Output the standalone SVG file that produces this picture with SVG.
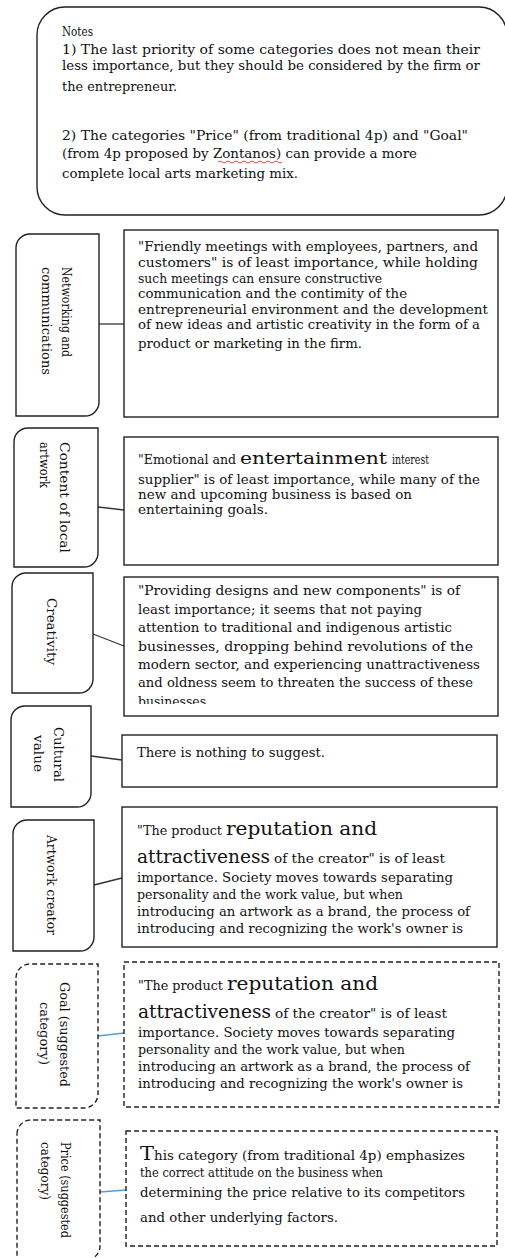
<svg xmlns="http://www.w3.org/2000/svg" width="505" height="1258" viewBox="0 0 505 1258">
<style>
.t{font-family:"DejaVu Serif","Liberation Serif",serif;font-size:12.5px;fill:#111}
.big{font-size:18.5px}
.mid{font-size:16px}
.box{fill:#fff;stroke:#222;stroke-width:1.4}
.dash{stroke-dasharray:5 3}
.con{fill:none;stroke:#333;stroke-width:1.3}
.blue{stroke:#5b9bd5}
</style>
<defs>
<clipPath id="c3"><rect x="124" y="577" width="374" height="127"/></clipPath>
</defs>
<rect width="505" height="1258" fill="#fff"/>

<g id="notes">
<rect class="box" x="37" y="7" width="470" height="208" rx="28" ry="28"/>
<text class="t" x="62" y="36" textLength="31" lengthAdjust="spacingAndGlyphs">Notes</text>
<text class="t" x="62" y="54" textLength="418" lengthAdjust="spacingAndGlyphs">1) The last priority of some categories does not mean their</text>
<text class="t" x="62" y="70" textLength="418" lengthAdjust="spacingAndGlyphs">less importance, but they should be considered by the firm or</text>
<text class="t" x="62" y="91" textLength="115" lengthAdjust="spacingAndGlyphs">the entrepreneur.</text>
<text class="t" x="62" y="140" textLength="406" lengthAdjust="spacingAndGlyphs">2) The categories "Price" (from traditional 4p) and "Goal"</text>
<text class="t" x="62" y="158" textLength="355" lengthAdjust="spacingAndGlyphs">(from 4p proposed by Zontanos) can provide a more</text>
<text class="t" x="62" y="178" textLength="236" lengthAdjust="spacingAndGlyphs">complete local arts marketing mix.</text>
<path d="M218 162 q2 -2 4 0 t4 0 t4 0 t4 0 t4 0 t4 0 t4 0 t4 0 t4 0 t4 0 t4 0 t4 0 t4 0 t4 0 t4 0 t4 0" fill="none" stroke="#e03030" stroke-width="0.9"/>
</g>

<g id="connectors">
<line class="con" x1="99" y1="324" x2="124" y2="324"/>
<line class="con" x1="98" y1="507" x2="124" y2="510"/>
<line class="con" x1="93" y1="634" x2="124" y2="646"/>
<line class="con" x1="91" y1="756" x2="122" y2="760"/>
<line class="con" x1="94" y1="885" x2="122" y2="878"/>
<line class="con blue" x1="98" y1="1036" x2="124" y2="1033"/>
<line class="con blue" x1="100" y1="1192" x2="126" y2="1190"/>
</g>

<g id="n-networking">
<path class="box" d="M16 248 A14 14 0 0 1 30 234 H99 V402 A14 14 0 0 1 85 416 H16 Z"/>
<g transform="translate(62 267) rotate(90)">
<text class="t" x="0" y="0" textLength="90" lengthAdjust="spacingAndGlyphs">Networking and</text>
<text class="t" x="0" y="20" textLength="108" lengthAdjust="spacingAndGlyphs">communications</text>
</g>
</g>
<g id="d-networking">
<rect class="box" x="124" y="230" width="374" height="187"/>
<text class="t" x="138" y="251" textLength="340" lengthAdjust="spacingAndGlyphs">"Friendly meetings with employees, partners, and</text>
<text class="t" x="138" y="267" textLength="340" lengthAdjust="spacingAndGlyphs">customers" is of least importance, while holding</text>
<text class="t" x="138" y="283" textLength="244" lengthAdjust="spacingAndGlyphs">such meetings can ensure constructive</text>
<text class="t" x="138" y="298" textLength="269" lengthAdjust="spacingAndGlyphs">communication and the contimity of the</text>
<text class="t" x="138" y="314" textLength="350" lengthAdjust="spacingAndGlyphs">entrepreneurial environment and the development</text>
<text class="t" x="138" y="329" textLength="342" lengthAdjust="spacingAndGlyphs">of new ideas and artistic creativity in the form of a</text>
<text class="t" x="138" y="348" textLength="224" lengthAdjust="spacingAndGlyphs">product or marketing in the firm.</text>
</g>

<g id="n-content">
<path class="box" d="M14 442 A14 14 0 0 1 28 428 H98 V553 A14 14 0 0 1 84 567 H14 Z"/>
<g transform="translate(60 442) rotate(90)">
<text class="t" x="0" y="0" textLength="111" lengthAdjust="spacingAndGlyphs">Content of local</text>
<text class="t" x="0" y="20" textLength="46" lengthAdjust="spacingAndGlyphs">artwork</text>
</g>
</g>
<g id="d-content">
<rect class="box" x="124" y="437" width="374" height="128"/>
<text class="t" y="464"><tspan x="138" textLength="98" lengthAdjust="spacingAndGlyphs">"Emotional and</tspan><tspan class="mid" x="240" textLength="147" lengthAdjust="spacingAndGlyphs">entertainment</tspan><tspan x="392" textLength="37" lengthAdjust="spacingAndGlyphs">interest</tspan></text>
<text class="t" x="138" y="484" textLength="342" lengthAdjust="spacingAndGlyphs">supplier" is of least importance, while many of the</text>
<text class="t" x="138" y="499" textLength="274" lengthAdjust="spacingAndGlyphs">new and upcoming business is based on</text>
<text class="t" x="138" y="514" textLength="130" lengthAdjust="spacingAndGlyphs">entertaining goals.</text>
</g>

<g id="n-creativity">
<path class="box" d="M12 587 A14 14 0 0 1 26 573 H93 V679 A14 14 0 0 1 79 693 H12 Z"/>
<g transform="translate(47 598) rotate(90)">
<text class="t" x="0" y="0" textLength="67" lengthAdjust="spacingAndGlyphs">Creativity</text>
</g>
</g>
<g id="d-creativity">
<rect class="box" x="124" y="577" width="374" height="139"/>
<g clip-path="url(#c3)">
<text class="t" x="138" y="595" textLength="322" lengthAdjust="spacingAndGlyphs">"Providing designs and new components" is of</text>
<text class="t" x="138" y="614" textLength="284" lengthAdjust="spacingAndGlyphs">least importance; it seems that not paying</text>
<text class="t" x="138" y="632" textLength="314" lengthAdjust="spacingAndGlyphs">attention to traditional and indigenous artistic</text>
<text class="t" x="138" y="651" textLength="335" lengthAdjust="spacingAndGlyphs">businesses, dropping behind revolutions of the</text>
<text class="t" x="138" y="669" textLength="342" lengthAdjust="spacingAndGlyphs">modern sector, and experiencing unattractiveness</text>
<text class="t" x="138" y="687" textLength="335" lengthAdjust="spacingAndGlyphs">and oldness seem to threaten the success of these</text>
<text class="t" x="138" y="706" textLength="72" lengthAdjust="spacingAndGlyphs">businesses.</text>
</g>
</g>

<g id="n-cultural">
<path class="box" d="M11 720 A14 14 0 0 1 25 706 H91 V793 A14 14 0 0 1 77 807 H11 Z"/>
<g transform="translate(54 727) rotate(90)">
<text class="t" x="0" y="0" textLength="55" lengthAdjust="spacingAndGlyphs">Cultural</text>
<text class="t" x="8" y="20" textLength="37" lengthAdjust="spacingAndGlyphs">value</text>
</g>
</g>
<g id="d-cultural">
<rect class="box" x="122" y="735" width="375" height="52"/>
<text class="t" x="137" y="757" textLength="188" lengthAdjust="spacingAndGlyphs">There is nothing to suggest.</text>
</g>

<g id="n-artwork">
<path class="box" d="M13 834 A14 14 0 0 1 27 820 H94 V937 A14 14 0 0 1 80 951 H13 Z"/>
<g transform="translate(47 835) rotate(90)">
<text class="t" x="0" y="0" textLength="100" lengthAdjust="spacingAndGlyphs">Artwork creator</text>
</g>
</g>
<g id="d-artwork">
<rect class="box" x="122" y="807" width="375" height="140"/>
<text class="t" y="835"><tspan x="137" textLength="85" lengthAdjust="spacingAndGlyphs">"The product</tspan><tspan class="big" x="226" textLength="151" lengthAdjust="spacingAndGlyphs">reputation and</tspan></text>
<text class="t" y="863"><tspan class="big" x="137" textLength="133" lengthAdjust="spacingAndGlyphs">attractiveness</tspan><tspan x="274" textLength="171" lengthAdjust="spacingAndGlyphs">of the creator" is of least</tspan></text>
<text class="t" x="137" y="882" textLength="316" lengthAdjust="spacingAndGlyphs">importance. Society moves towards separating</text>
<text class="t" x="137" y="899" textLength="266" lengthAdjust="spacingAndGlyphs">personality and the work value, but when</text>
<text class="t" x="137" y="916" textLength="333" lengthAdjust="spacingAndGlyphs">introducing an artwork as a brand, the process of</text>
<text class="t" x="137" y="933" textLength="326" lengthAdjust="spacingAndGlyphs">introducing and recognizing the work's owner is</text>
</g>

<g id="n-goal">
<path class="box dash" d="M16 978 A14 14 0 0 1 30 964 H98 V1094 A14 14 0 0 1 84 1108 H16 Z"/>
<g transform="translate(60 982) rotate(90)">
<text class="t" x="0" y="0" textLength="105" lengthAdjust="spacingAndGlyphs">Goal (suggested</text>
<text class="t" x="20" y="20" textLength="63" lengthAdjust="spacingAndGlyphs">category)</text>
</g>
</g>
<g id="d-goal">
<rect class="box dash" x="124" y="962" width="375" height="145"/>
<text class="t" y="990"><tspan x="138" textLength="85" lengthAdjust="spacingAndGlyphs">"The product</tspan><tspan class="big" x="227" textLength="151" lengthAdjust="spacingAndGlyphs">reputation and</tspan></text>
<text class="t" y="1018"><tspan class="big" x="138" textLength="133" lengthAdjust="spacingAndGlyphs">attractiveness</tspan><tspan x="275" textLength="172" lengthAdjust="spacingAndGlyphs">of the creator" is of least</tspan></text>
<text class="t" x="138" y="1037" textLength="317" lengthAdjust="spacingAndGlyphs">importance. Society moves towards separating</text>
<text class="t" x="138" y="1054" textLength="267" lengthAdjust="spacingAndGlyphs">personality and the work value, but when</text>
<text class="t" x="138" y="1071" textLength="332" lengthAdjust="spacingAndGlyphs">introducing an artwork as a brand, the process of</text>
<text class="t" x="138" y="1088" textLength="325" lengthAdjust="spacingAndGlyphs">introducing and recognizing the work's owner is</text>
</g>

<g id="n-price">
<path class="box dash" d="M17 1134 A14 14 0 0 1 31 1120 H100 V1246 A14 14 0 0 1 86 1260 H17 Z"/>
<g transform="translate(61 1142) rotate(90)">
<text class="t" x="0" y="0" textLength="96" lengthAdjust="spacingAndGlyphs">Price (suggested</text>
<text class="t" x="0" y="20" textLength="58" lengthAdjust="spacingAndGlyphs">category)</text>
</g>
</g>
<g id="d-price">
<rect class="box dash" x="126" y="1131" width="371" height="115"/>
<text class="t" y="1160"><tspan class="big" x="140" textLength="14" lengthAdjust="spacingAndGlyphs">T</tspan><tspan x="154" textLength="311" lengthAdjust="spacingAndGlyphs">his category (from traditional 4p) emphasizes</tspan></text>
<text class="t" x="140" y="1177" textLength="243" lengthAdjust="spacingAndGlyphs">the correct attitude on the business when</text>
<text class="t" x="140" y="1197" textLength="325" lengthAdjust="spacingAndGlyphs">determining the price relative to its competitors</text>
<text class="t" x="140" y="1222" textLength="198" lengthAdjust="spacingAndGlyphs">and other underlying factors.</text>
</g>
</svg>
